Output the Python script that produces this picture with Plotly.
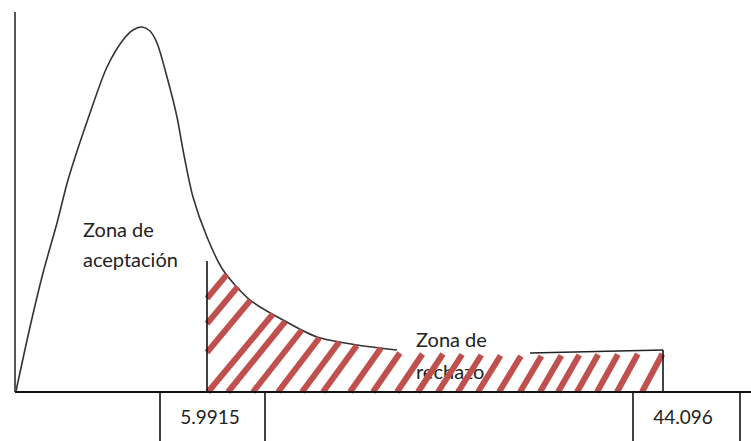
import numpy as np
import plotly.graph_objects as go

# ---- schematic data (units: horizontal position, height above axis) ----
curve_x = [16, 30, 43, 57, 68, 90, 107, 123, 133, 142, 150, 157, 167, 177, 183, 193, 207, 223, 250, 283, 317, 357, 397]
curve_y = [1, 65, 119, 169, 212, 279, 325, 352, 362, 365, 361, 349, 315, 275, 242, 195, 155, 122, 92, 72, 55, 47, 42]

tail_x = [530, 663]
tail_y = [39, 42]

crit_pos = [207, 663]          # positions of the critical values on the axis
crit_height = [131, 42]        # height of the vertical marker lines
crit_labels = ["5.9915", "44.096"]
label_box_left = [160, 633]
label_box_right = [265, 740]
label_x = [210, 683]
label_y = [-27, -27]

zone_text = ["Zona de", "aceptación", "Zona de", "rechazo"]
zone_x = [83, 83, 416, 416]
zone_y = [160, 130, 50, 18]

hatch_bases = [129, 150, 174, 208, 228, 253, 278, 302, 323, 350, 373, 397, 418, 438,
               458, 478, 499, 520, 540, 558, 577, 597, 617, 642]

axis_x_end = 751
axis_y_top = 380
axis_x0 = 15

# ---- hatch construction (clipped to rejection region) ----
top_x = [x for x in curve_x if x >= 207] + [400, 530, 663]
top_y = [y for x, y in zip(curve_x, curve_y) if x >= 207] + [39, 36, 39]

def top_at(x):
    return np.interp(x, top_x, top_y)

hx, hy = [], []
x0c, x1c = crit_pos
for b in hatch_bases:
    s = 1.2 + (1.9 - 1.2) * (b - x0c) / (x1c - x0c)
    s = max(s, 1.2)
    if b < x0c:
        h0 = s * (x0c - b)
        xs = x0c
    else:
        h0 = 0.0
        xs = b
    if h0 > crit_height[0]:
        continue
    h = h0
    x = xs
    while True:
        hn = h + 0.5
        xn = b + hn / s
        if xn > x1c - 0.5 or hn > top_at(xn):
            break
        h, x = hn, xn
    hx += [xs, x, None]
    hy += [h0, h, None]

fig = go.Figure()

font_fam = "Lato, 'Open Sans', sans-serif"

# zone labels (drawn first so the hatch covers them)
fig.add_trace(go.Scatter(x=zone_x, y=zone_y, mode="text", text=zone_text,
                         textposition="middle right",
                         textfont=dict(family=font_fam, size=20, color="#222222"),
                         hoverinfo="skip"))

# density curve
fig.add_trace(go.Scatter(x=curve_x, y=curve_y, mode="lines",
                         line=dict(color="#333333", width=1.6, shape="spline", smoothing=0.8),
                         hoverinfo="skip"))
# tail segment
fig.add_trace(go.Scatter(x=tail_x, y=tail_y, mode="lines",
                         line=dict(color="#222222", width=1.6), hoverinfo="skip"))

# hatch
fig.add_trace(go.Scatter(x=hx, y=hy, mode="lines",
                         line=dict(color="#C0504D", width=6), hoverinfo="skip"))

# critical value markers
for p, h in zip(crit_pos, crit_height):
    fig.add_trace(go.Scatter(x=[p, p], y=[0, h], mode="lines",
                             line=dict(color="#111111", width=1.6), hoverinfo="skip"))

# label boxes
for l, r in zip(label_box_left, label_box_right):
    fig.add_trace(go.Scatter(x=[l, l, None, r, r], y=[0, -60, None, 0, -60], mode="lines",
                             line=dict(color="#111111", width=1.6), hoverinfo="skip"))

# axes
fig.add_trace(go.Scatter(x=[axis_x0, axis_x0], y=[0, axis_y_top], mode="lines",
                         line=dict(color="#555555", width=2), hoverinfo="skip"))
fig.add_trace(go.Scatter(x=[axis_x0, axis_x_end], y=[0, 0], mode="lines",
                         line=dict(color="#111111", width=2), hoverinfo="skip"))

fig.add_trace(go.Scatter(x=label_x, y=label_y, mode="text", text=crit_labels,
                         textposition="middle center",
                         textfont=dict(family=font_fam, size=19, color="#222222"),
                         hoverinfo="skip"))

fig.update_layout(width=751, height=441, margin=dict(l=0, r=0, t=0, b=0),
                  showlegend=False, plot_bgcolor="white", paper_bgcolor="white",
                  xaxis=dict(range=[0, 751], visible=False, fixedrange=True),
                  yaxis=dict(range=[-49, 392], visible=False, fixedrange=True))

fig.write_html("out.html", config={"displayModeBar": False},
               post_script="document.body.style.margin='0';document.body.style.overflow='hidden';")
